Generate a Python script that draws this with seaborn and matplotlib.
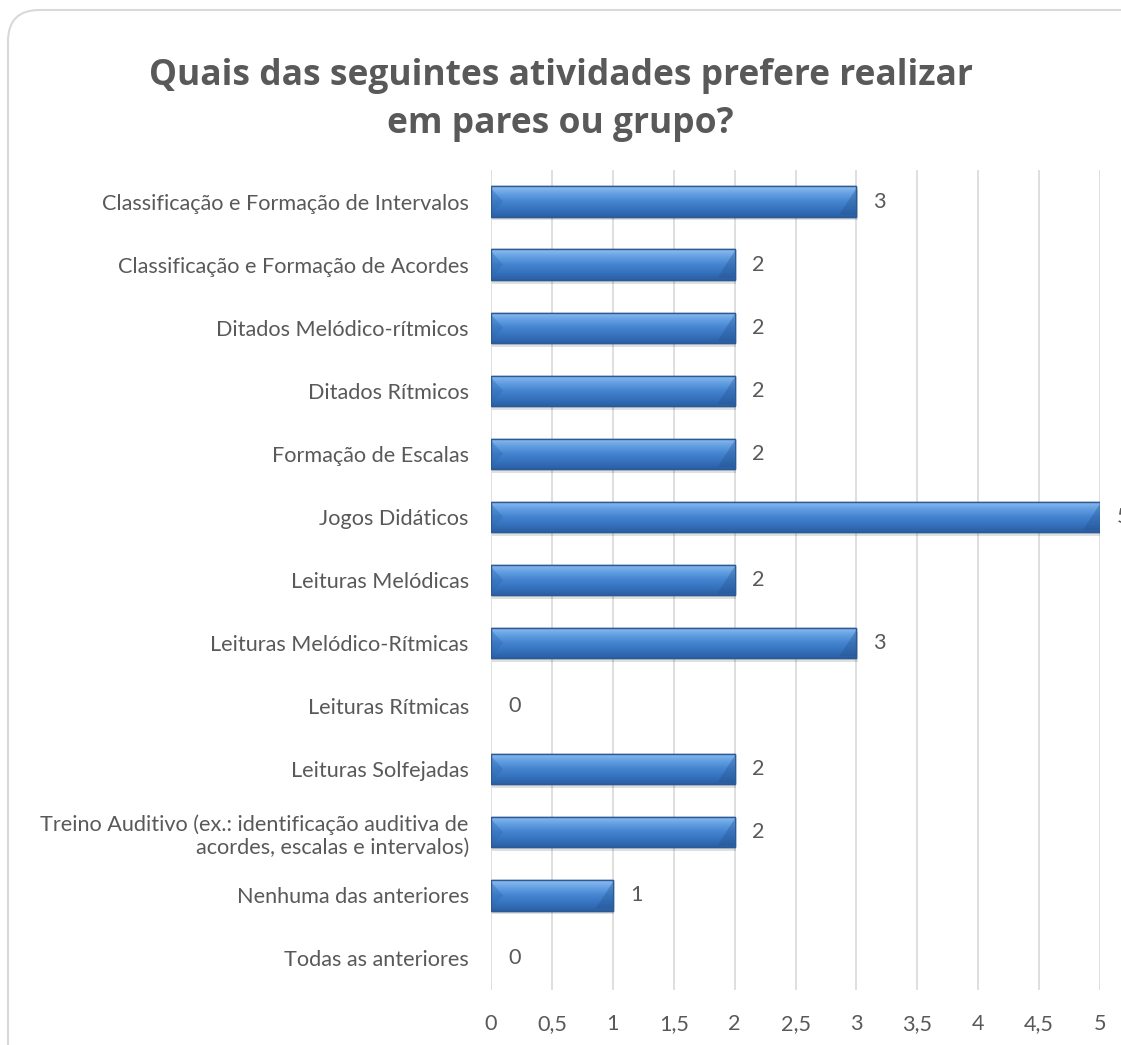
import matplotlib
matplotlib.use("Agg")
import matplotlib.pyplot as plt
from matplotlib.patches import FancyBboxPatch, Rectangle
from matplotlib.colors import LinearSegmentedColormap
import numpy as np
import pandas as pd
import seaborn as sns

categories = [
    "Classificação e Formação de Intervalos",
    "Classificação e Formação de Acordes",
    "Ditados Melódico-rítmicos",
    "Ditados Rítmicos",
    "Formação de Escalas",
    "Jogos Didáticos",
    "Leituras Melódicas",
    "Leituras Melódico-Rítmicas",
    "Leituras Rítmicas",
    "Leituras Solfejadas",
    "Treino Auditivo (ex.: identificação auditiva de\nacordes, escalas e intervalos)",
    "Nenhuma das anteriores",
    "Todas as anteriores",
]
values = [3, 2, 2, 2, 2, 5, 2, 3, 0, 2, 2, 1, 0]
tick_values = [0, 0.5, 1, 1.5, 2, 2.5, 3, 3.5, 4, 4.5, 5]
tick_labels = ["0", "0,5", "1", "1,5", "2", "2,5", "3", "3,5", "4", "4,5", "5"]
title = "Quais das seguintes atividades prefere realizar\nem pares ou grupo?"

sns.set_theme(style="white")
plt.rcParams["font.family"] = ["Lato", "DejaVu Sans"]

text_grey = "#595959"
label_size = 15.6
df = pd.DataFrame({"atividade": categories, "n": values})

W, H = 1121, 1045
fig = plt.figure(figsize=(W / 100, H / 100), dpi=100)
fig.patch.set_facecolor("white")

# rounded frame around the chart
frame = FancyBboxPatch((8 / W, -0.05), 1.2, 1.05 - 10 / H,
                       boxstyle="round,pad=0,rounding_size=0.028",
                       transform=fig.transFigure, facecolor="none",
                       edgecolor="#d9d9d9", linewidth=1.5, mutation_aspect=W / H)
fig.patches.append(frame)

ax_left, ax_right, ax_top, ax_bottom = 491, 1100, 170, 990
ax = fig.add_axes([ax_left / W, 1 - ax_bottom / H,
                   (ax_right - ax_left) / W, (ax_bottom - ax_top) / H])
sns.barplot(data=df, x="n", y="atividade", ax=ax, color="#3e7cc8",
            width=0.48, edgecolor="#2b5a94", linewidth=1.0, zorder=3)

n_cat = len(categories)
ax.set_xlim(0, 5)
ax.set_ylim(n_cat - 0.5, -0.5)
ax.set_xticks(tick_values)
ax.set_xticklabels(tick_labels, color=text_grey, fontsize=label_size)
ax.tick_params(axis="x", length=0, pad=17)
ax.tick_params(axis="y", length=0, pad=16, labelsize=label_size, labelcolor=text_grey)
for lbl in ax.get_yticklabels():
    lbl.set_multialignment("right")
ax.set_xlabel("")
ax.set_ylabel("")
for s in ax.spines.values():
    s.set_visible(False)
ax.grid(axis="x", color="#d9d9d9", linewidth=1.2, zorder=0)
ax.set_axisbelow(True)

# shaded fill, soft shadow and bevelled ends on each bar
cmap = LinearSegmentedColormap.from_list(
    "bevel", ["#8fbef0", "#629fe2", "#4584d0", "#3673bf", "#2b5fa3"])
grad = np.linspace(0, 1, 64).reshape(-1, 1)
for patch in list(ax.patches):
    w = patch.get_width()
    if w <= 0:
        patch.set_visible(False)
        continue
    x0, y0 = patch.get_x(), patch.get_y()
    h = patch.get_height()
    ax.add_patch(Rectangle((x0 + 0.01, y0 + 0.06), w, h, facecolor="#000000",
                           alpha=0.12, linewidth=0, zorder=2.5))
    im = ax.imshow(grad, cmap=cmap, aspect="auto", extent=(x0, x0 + w, y0 + h, y0),
                   zorder=3.5, interpolation="bicubic")
    im.set_clip_path(patch)
    ax.fill([x0, x0 + 0.1, x0], [y0 + 0.03, y0 + h / 2, y0 + h - 0.03],
            color="#2f67ad", alpha=0.35, zorder=3.6, linewidth=0)
    ax.fill([x0 + w, x0 + w - 0.14, x0 + w], [y0 + 0.03, y0 + h - 0.03, y0 + h - 0.03],
            color="#24528d", alpha=0.35, zorder=3.6, linewidth=0)
    ax.add_patch(Rectangle((x0, y0), w, h, facecolor="none", edgecolor="#2b5a94",
                           linewidth=1.0, zorder=3.7))
ax.set_xlim(0, 5)
ax.set_ylim(n_cat - 0.5, -0.5)

for i, v in enumerate(values):
    ax.text(v + 0.14, i, str(v), va="center", ha="left", fontsize=label_size,
            color=text_grey, clip_on=False)

fig.text(0.5, 1 - 100 / H, title, ha="center", va="center", fontsize=25.5,
         fontweight="bold", color=text_grey, linespacing=1.45,
         family=["Open Sans", "DejaVu Sans"])

fig.savefig("out.png", dpi=100, facecolor="white")
